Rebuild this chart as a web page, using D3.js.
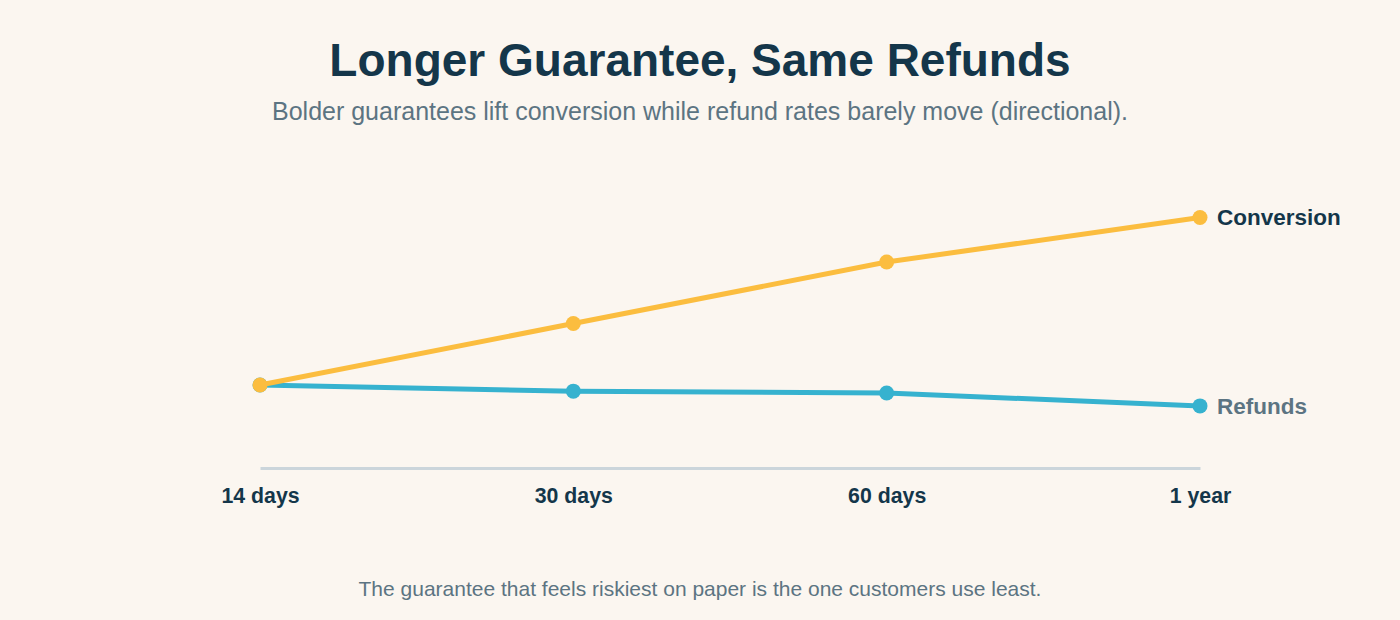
<!DOCTYPE html>
<html><head><meta charset="utf-8">
<script src="https://cdn.jsdelivr.net/npm/d3@7"></script>
<style>
html,body{margin:0;padding:0;background:#fbf6f0;}
svg{display:block;font-family:"Liberation Sans",Arial,Helvetica,sans-serif;}
</style></head>
<body>
<svg id="chart" width="1400" height="620"></svg>
<script>
const categories = ["14 days", "30 days", "60 days", "1 year"];
const conversion = [100, 120, 140, 154.5];
const refunds = [100, 98, 97.4, 93.2];
const seriesNames = ["Conversion", "Refunds"];

const svg = d3.select("#chart");
svg.append("rect").attr("width",1400).attr("height",620).attr("fill","#fbf6f0");

svg.append("text").attr("x",700).attr("y",76).attr("text-anchor","middle")
  .attr("font-size",46).attr("font-weight","bold").attr("fill","#14364a")
  .text("Longer Guarantee, Same Refunds");
svg.append("text").attr("x",700).attr("y",120).attr("text-anchor","middle")
  .attr("font-size",25).attr("fill","#5c7482")
  .text("Bolder guarantees lift conversion while refund rates barely move (directional).");
svg.append("text").attr("x",700).attr("y",596).attr("text-anchor","middle")
  .attr("font-size",21).attr("fill","#5c7482")
  .text("The guarantee that feels riskiest on paper is the one customers use least.");

const x = d3.scalePoint().domain(categories).range([260,1200]);
const y = d3.scaleLinear().domain([73,160]).range([468,200.6]);

const axis = svg.append("g").attr("transform","translate(0,468)")
  .call(d3.axisBottom(x).tickSize(0).tickPadding(20));
axis.select(".domain").attr("stroke","#cbd5db").attr("stroke-width",3);
axis.selectAll("text").attr("font-size",21.3).attr("font-weight","bold")
  .attr("fill","#14364a").attr("font-family","Liberation Sans, Arial, sans-serif");

const series = [
  {name: seriesNames[1], values: refunds, color:"#36b2cf", label:"#5c7482"},
  {name: seriesNames[0], values: conversion, color:"#fbbd3f", label:"#14364a"}
];
const line = d3.line().x((d,i)=>x(categories[i])).y(d=>y(d));
series.forEach(s=>{
  svg.append("path").datum(s.values).attr("d",line).attr("fill","none")
    .attr("stroke",s.color).attr("stroke-width",5).attr("stroke-linejoin","round").attr("stroke-linecap","round");
  svg.selectAll(null).data(s.values).enter().append("circle")
    .attr("cx",(d,i)=>x(categories[i])).attr("cy",d=>y(d)).attr("r",7.5).attr("fill",s.color);
  const last = s.values[s.values.length-1];
  svg.append("text").attr("x",x(categories[categories.length-1])+17).attr("y",y(last))
    .attr("dy","0.35em").attr("font-size",22.5).attr("font-weight","bold").attr("fill",s.label)
    .text(s.name);
});
</script>
</body></html>
